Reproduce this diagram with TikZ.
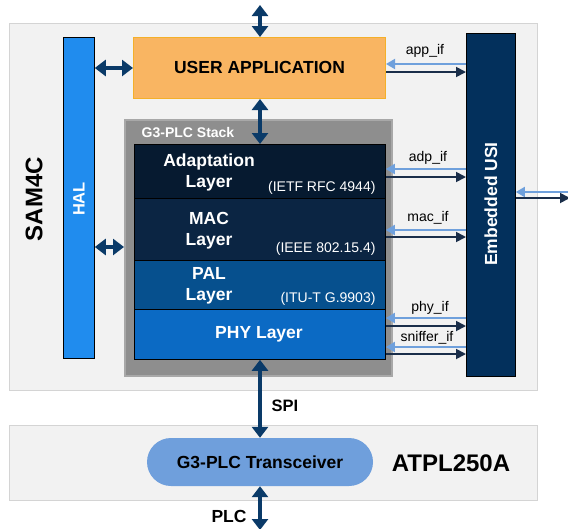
\documentclass[tikz,border=0pt]{standalone}
\usepackage{fontspec}
\setmainfont{Liberation Sans}
\usetikzlibrary{arrows.meta}
\definecolor{bgbox}{HTML}{F2F2F2}
\definecolor{bgline}{HTML}{D4D4D4}
\definecolor{halblue}{HTML}{208CEE}
\definecolor{appfill}{HTML}{F9B562}
\definecolor{appline}{HTML}{F4B02A}
\definecolor{stackgray}{HTML}{8E8E8E}
\definecolor{stackline}{HTML}{A8A8A8}
\definecolor{adaptc}{HTML}{061A30}
\definecolor{macc}{HTML}{0B2543}
\definecolor{palc}{HTML}{06508E}
\definecolor{phyc}{HTML}{0B6AC4}
\definecolor{usic}{HTML}{03305C}
\definecolor{bigarrc}{HTML}{0A3A68}
\definecolor{darkarrc}{HTML}{1A2E4A}
\definecolor{lightarrc}{HTML}{6FA0DC}
\definecolor{trxc}{HTML}{6F9FDC}
\tikzset{
  panel/.style={draw=bgline, line width=1.2pt, fill=bgbox},
  boxnw/.style={anchor=north west, inner sep=0pt},
  layer/.style={boxnw, draw=black, line width=0.8pt},
  bigtxt/.style={font=\fontsize{17.5}{21}\selectfont\bfseries},
  wtxt/.style={bigtxt, text=white, align=center},
  stdtxt/.style={font=\fontsize{14}{16}\selectfont},
  bigarr/.style={draw=bigarrc, line width=4pt, {Triangle[width=16pt,length=11pt]}-{Triangle[width=16pt,length=11pt]}},
  lightarr/.style={draw=lightarrc, line width=1.8pt, -{Triangle[width=10pt,length=9pt]}},
  darkarr/.style={draw=darkarrc, line width=1.8pt, -{Triangle[width=10pt,length=10pt]}},
}
\begin{document}
\begin{tikzpicture}[x=1pt,y=-1pt]
\useasboundingbox (0,0) rectangle (568,528);
% panels
\node[panel, boxnw, minimum width=528pt, minimum height=367pt] (sam) at (9,23) {};
\node[panel, boxnw, minimum width=528pt, minimum height=75pt] (atpl) at (9,425) {};
\node[bigtxt, font=\fontsize{24}{28}\selectfont\bfseries, rotate=90] (samlbl) at (34,199) {SAM4C};
\node[bigtxt, font=\fontsize{24}{28}\selectfont\bfseries] (atpllbl) at (451,463) {ATPL250A};
% HAL
\node[boxnw, draw=black, line width=0.8pt, fill=halblue, minimum width=31pt, minimum height=321pt] (hal) at (63,37) {};
\node[text=white, font=\fontsize{16.5}{20}\selectfont\bfseries, rotate=90] (hallbl) at (hal.center |- 0,199) {HAL};
% user application
\node[boxnw, draw=appline, line width=1pt, fill=appfill, minimum width=252pt, minimum height=61pt] (app) at (133,37) {};
\node[bigtxt] (applbl) at ([yshift=1pt]app.center) {USER APPLICATION};
% stack
\node[boxnw, draw=stackline, line width=1.5pt, fill=stackgray, minimum width=267pt, minimum height=256pt] (stack) at (124,119) {};
\node[text=white, font=\fontsize{14}{16}\selectfont\bfseries] (stacklbl) at (188,133) {G3-PLC Stack};
\node[layer, fill=adaptc, minimum width=251pt, minimum height=54pt] (adapt) at (134,144) {};
\node[layer, fill=macc, minimum width=251pt, minimum height=62pt] (mac) at (134,198) {};
\node[layer, fill=palc, minimum width=251pt, minimum height=49pt] (pal) at (134,260) {};
\node[layer, fill=phyc, minimum width=251pt, minimum height=50pt] (phy) at (134,309) {};
\node[wtxt] (adaptlbl) at (209,172) {Adaptation\\Layer};
\node[wtxt] (maclbl) at (209,230.5) {MAC\\Layer};
\node[wtxt] (pallbl) at (209,286) {PAL\\Layer};
\node[wtxt] (phylbl) at (259,334.5) {PHY Layer};
\node[stdtxt, text=white, anchor=east] (adaptref) at (379,187.5) {(IETF RFC 4944)};
\node[stdtxt, text=white, anchor=east] (macref) at (379,248.5) {(IEEE 802.15.4)};
\node[stdtxt, text=white, anchor=east] (palref) at (379,298.5) {(ITU-T G.9903)};
% USI
\node[boxnw, draw=black, line width=0.8pt, fill=usic, minimum width=49pt, minimum height=343pt] (usi) at (466,33) {};
\node[text=white, font=\fontsize{17.5}{21}\selectfont\bfseries, rotate=90] (usilbl) at (usi.center |- 0,204) {Embedded USI};
% transceiver
\node[fill=trxc, rounded corners=24pt, minimum width=226pt, minimum height=48pt, inner sep=0pt, bigtxt] (trx) at (260,462) {G3-PLC Transceiver};
% big arrows
\coordinate (topend) at (260,5);
\coordinate (botend) at (260,530);
\draw[bigarr] (topend) -- (topend |- app.north);
\draw[bigarr] (topend |- app.south) -- (topend |- adapt.north);
\draw[bigarr] (topend |- phy.south) -- (topend |- trx.north);
\draw[bigarr] (topend |- trx.south) -- (botend);
\draw[bigarr] (hal.east |- app.west) -- (app.west);
\draw[bigarr] (hal.east |- 0,247) -- (stack.west |- 0,247);
\node[bigtxt, font=\fontsize{16.5}{20}\selectfont\bfseries] (spilbl) at (285,406) {SPI};
\node[bigtxt] (plclbl) at (229,516) {PLC};
% interface arrows
\draw[lightarr] (usi.west |- 0,64) -- (app.east |- 0,64);
\draw[darkarr] (app.east |- 0,72) -- (usi.west |- 0,72);
\node[stdtxt] (appif) at (425,51) {app\_if};
\draw[lightarr] (usi.west |- 0,169) -- (adapt.east |- 0,169);
\draw[darkarr] (adapt.east |- 0,177) -- (usi.west |- 0,177);
\node[stdtxt] (adpif) at (428,158) {adp\_if};
\draw[lightarr] (usi.west |- 0,230) -- (mac.east |- 0,230);
\draw[darkarr] (mac.east |- 0,237) -- (usi.west |- 0,237);
\node[stdtxt] (macif) at (428,218) {mac\_if};
\draw[lightarr] (usi.west |- 0,318) -- (phy.east |- 0,318);
\draw[darkarr] (phy.east |- 0,326) -- (usi.west |- 0,326);
\node[stdtxt] (phyif) at (430,308) {phy\_if};
\draw[lightarr] (usi.west |- 0,347) -- (phy.east |- 0,347);
\draw[darkarr] (phy.east |- 0,354) -- (usi.west |- 0,354);
\node[stdtxt] (snif) at (427,338) {sniffer\_if};
\coordinate (rin) at (570,192);
\coordinate (rout) at (570,198);
\draw[lightarr] (rin) -- (usi.east |- rin);
\draw[darkarr] (usi.east |- rout) -- (rout);
\end{tikzpicture}
\end{document}
